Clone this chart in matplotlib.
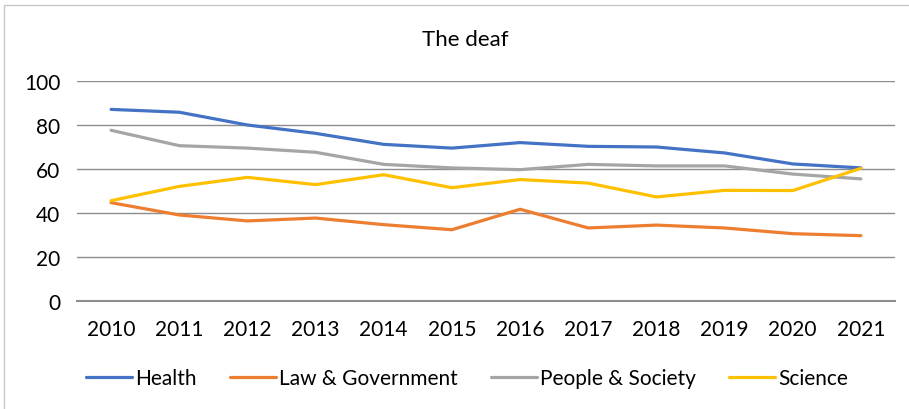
import matplotlib
matplotlib.use('Agg')
import matplotlib.pyplot as plt
from matplotlib.patches import Rectangle

years = ['2010', '2011', '2012', '2013', '2014', '2015', '2016', '2017', '2018', '2019', '2020', '2021']
health = [87.1, 85.8, 80.0, 76.2, 71.2, 69.5, 72.0, 70.3, 70.0, 67.3, 62.3, 60.5]
law_gov = [44.7, 39.1, 36.4, 37.7, 34.7, 32.4, 41.7, 33.2, 34.5, 33.2, 30.6, 29.7]
people_society = [77.6, 70.6, 69.5, 67.6, 62.1, 60.5, 59.7, 62.1, 61.4, 61.4, 57.7, 55.5]
science = [45.6, 52.1, 56.2, 52.9, 57.4, 51.5, 55.2, 53.6, 47.3, 50.3, 50.2, 60.3]

plt.rcParams['font.family'] = ['Lato', 'DejaVu Sans']

fig = plt.figure(figsize=(9.09, 4.10), dpi=100)
ax = fig.add_axes([77 / 909, 1 - 302 / 410, 818 / 909, 220 / 410])

# outer chart border like the spreadsheet frame
fig.patches.append(Rectangle((4 / 909, -0.1), 1.2, 1 - 6 / 410 + 0.1, transform=fig.transFigure,
                             fill=False, edgecolor='#c8c8c8', lw=1.0))

x = range(len(years))
ax.plot(x, health, color='#4472C4', lw=2.3, label='Health', solid_capstyle='round')
ax.plot(x, law_gov, color='#ED7D31', lw=2.3, label='Law & Government', solid_capstyle='round')
ax.plot(x, people_society, color='#A5A5A5', lw=2.3, label='People & Society', solid_capstyle='round')
ax.plot(x, science, color='#FFC000', lw=2.3, label='Science', solid_capstyle='round')

ax.set_xlim(-0.5, len(years) - 0.5)
ax.set_ylim(0, 100)
ax.set_yticks([0, 20, 40, 60, 80, 100])
ax.set_xticks(list(x))
ax.set_xticklabels(years)
ax.yaxis.grid(True, color='#8c8c8c', lw=1.0)
ax.set_axisbelow(True)
for s in ['top', 'right', 'left']:
    ax.spines[s].set_visible(False)
ax.spines['bottom'].set_color('#8c8c8c')
ax.spines['bottom'].set_linewidth(1.5)
ax.tick_params(axis='both', length=0, labelsize=15, colors='black')
ax.tick_params(axis='y', pad=12)
ax.tick_params(axis='x', pad=13)

fig.text(465 / 909, 1 - 40 / 410, 'The deaf', ha='center', va='center', fontsize=16)

fig.legend(loc='center', bbox_to_anchor=(467 / 909, 1 - 379 / 410), ncol=4, frameon=False,
           fontsize=15, handlelength=2.2, columnspacing=1.6, handletextpad=0.15)

fig.savefig('out.png', dpi=100)
